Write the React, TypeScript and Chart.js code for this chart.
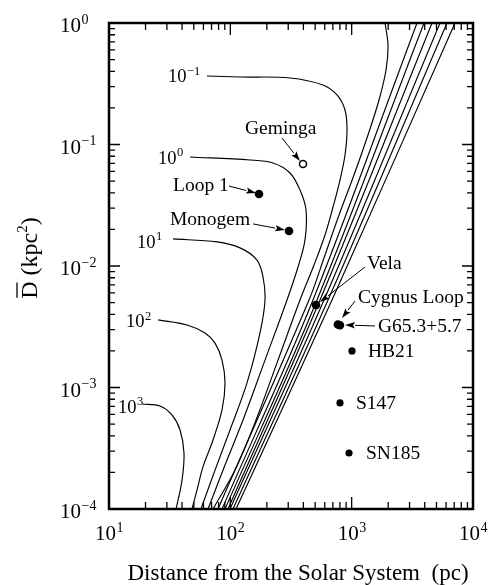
import React, { useEffect, useRef } from "react";
import { Chart, registerables } from "chart.js";

Chart.register(...registerables);

// ---------------- data ----------------
const xMin = 10;
const xMax = 10000;
const yMin = 1e-4;
const yMax = 1;

// labelled curves (distance pc, D kpc^2)
const curveM2X = [1883, 1993, 1919, 1680, 1363, 1045, 786.5, 603.0, 445.0, 79.1];
const curveM2Y = [1, 0.659, 0.4104, 0.2325, 0.1197, 0.0561, 0.0263, 0.01232, 0.00525, 0.0001];

const curveM1X = [64.2, 120.2, 310.4, 580.4, 757.3, 881.3, 915.4, 881.3, 801.4, 701.9, 603.0, 489.4, 375.2, 247.2, 162.8, 109.3, 72.0];
const curveM1Y = [0.3664, 0.3594, 0.3527, 0.3089, 0.2556, 0.1923, 0.1316, 0.082, 0.051, 0.0306, 0.018, 0.01019, 0.00525, 0.00168, 0.00054, 0.000209, 0.0001];

const curve0X = [46.5, 145.3, 224.7, 310.4, 375.2, 420.4, 412.5, 361.2, 293.2, 193.1, 127.2, 90.4, 65.5];
const curve0Y = [0.0789, 0.0746, 0.0704, 0.0583, 0.0422, 0.0289, 0.0164, 0.00981, 0.00525, 0.00168, 0.00054, 0.00023, 0.0001];

const curve1X = [33.7, 77.6, 120.2, 165.9, 185.9, 193.1, 175.6, 137.2, 99.4, 74.8, 57.3];
const curve1Y = [0.0167, 0.0158, 0.0141, 0.0112, 0.00812, 0.00525, 0.00281, 0.00109, 0.000447, 0.000209, 0.0001];

const curve2X = [25.4, 43.9, 61.8, 74.8, 85.4, 90.4, 85.4, 72.0, 59.5, 53.1, 48.3];
const curve2Y = [0.0036, 0.00327, 0.00281, 0.00232, 0.00168, 0.00109, 0.000653, 0.00037, 0.000222, 0.000143, 0.0001];

const curve3X = [18.7, 26.3, 33.0, 38.5, 41.5, 40.0, 35.7];
const curve3Y = [0.000731, 0.000704, 0.000594, 0.000447, 0.000289, 0.000173, 0.0001];

// unlabelled bundle of steep lines
const bundleY = [1, 0.00525, 0.0001];
const bundleTopX = [3455, 3948, 4594, 5348, 6106, 7108];
const bundleMidX = [480.2, 518.0, 548.3, 591.6, 638.3, 688.7];
const bundleBottomX = [85.4, 90.4, 95.7, 99.4, 105.2, 111.4];

// sources
const bigNames = ["Loop 1", "Monogem", "Vela", "Cygnus Loop", "G65.3+5.7"];
const bigDist = [172.3, 304.5, 508.2, 770, 800];
const bigD = [0.0391, 0.0194, 0.00478, 0.0033, 0.00325];
const smallNames = ["HB21", "S147", "SN185"];
const smallDist = [1006, 801, 951];
const smallD = [0.002, 0.000746, 0.000289];
const openNames = ["Geminga"];
const openDist = [397];
const openD = [0.0691];

// text annotations (anchored in data units, left edge / middle)
const labelTexts = ["Geminga", "Loop 1", "Monogem", "Vela", "Cygnus Loop", "G65.3+5.7", "HB21", "S147", "SN185"];
const labelX = [132.1, 33.7, 31.8, 1338, 1128, 1649, 1363, 1086, 1313];
const labelY = [0.1367, 0.0464, 0.0244, 0.01058, 0.00556, 0.00321, 0.002, 0.000746, 0.000289];

const arrowFromX = [266.6, 97.5, 153.8, 1288, 1065, 1557];
const arrowFromY = [0.1131, 0.0455, 0.0222, 0.00981, 0.00515, 0.00321];
const arrowToX = [375.2, 162.8, 282.2, 548.3, 832.4, 881.3];
const arrowToY = [0.0731, 0.0399, 0.0198, 0.00505, 0.00373, 0.00327];

const curveLabelExp = ["\u22121", "0", "1", "2", "3"];
const curveLabelX = [30.6, 25.4, 17.0, 13.8, 11.86];
const curveLabelY = [0.3664, 0.0789, 0.01606, 0.00353, 0.000704];

const xTickExps = ["1", "2", "3", "4"];
const xTickVals = [10, 100, 1000, 10000];
const yTickExps = ["0", "\u22121", "\u22122", "\u22123", "\u22124"];
const yTickVals = [1, 0.1, 0.01, 0.001, 0.0001];

const xTitle = "Distance from the Solar System  (pc)";

// ---------------- helpers ----------------
const SERIF = '"Liberation Serif", "Times New Roman", serif';

function zip(xs: number[], ys: number[]) {
  return xs.map((x, i) => ({ x, y: ys[i] }));
}

function lineDs(data: { x: number; y: number }[]) {
  return {
    data,
    showLine: true,
    borderColor: "#000",
    borderWidth: 1.15,
    pointRadius: 0,
    pointHoverRadius: 0,
    tension: 0.35,
    fill: false,
  };
}

function drawPow(
  ctx: CanvasRenderingContext2D,
  exp: string,
  x: number,
  baseline: number,
  size: number,
  supSize: number,
  align: "left" | "center"
) {
  ctx.font = `${size}px ${SERIF}`;
  const wb = ctx.measureText("10").width;
  ctx.font = `${supSize}px ${SERIF}`;
  const ws = ctx.measureText(exp).width;
  const start = align === "center" ? x - (wb + ws) / 2 : x;
  ctx.textAlign = "left";
  ctx.textBaseline = "alphabetic";
  ctx.font = `${size}px ${SERIF}`;
  ctx.fillText("10", start, baseline);
  ctx.font = `${supSize}px ${SERIF}`;
  ctx.fillText(exp, start + wb + 0.5, baseline - size * 0.4);
}

const decorPlugin = {
  id: "decor",
  afterDatasetsDraw(chart: any) {
    const ctx: CanvasRenderingContext2D = chart.ctx;
    const xs = chart.scales.x;
    const ys = chart.scales.y;
    const { left, right, top, bottom } = chart.chartArea;
    ctx.save();
    ctx.strokeStyle = "#000";
    ctx.fillStyle = "#000";

    // ticks (inward, all four sides)
    ctx.lineWidth = 1.3;
    ctx.beginPath();
    for (let e = 1; e < 4; e++) {
      for (let m = 1; m < 10; m++) {
        const px = xs.getPixelForValue(m * Math.pow(10, e));
        const len = m === 1 ? 12 : 7;
        ctx.moveTo(px, bottom);
        ctx.lineTo(px, bottom - len);
        ctx.moveTo(px, top);
        ctx.lineTo(px, top + len);
      }
    }
    for (let e = -4; e < 0; e++) {
      for (let m = 1; m < 10; m++) {
        const py = ys.getPixelForValue(m * Math.pow(10, e));
        const len = m === 1 ? 11 : 6;
        ctx.moveTo(left, py);
        ctx.lineTo(left + len, py);
        ctx.moveTo(right, py);
        ctx.lineTo(right - len, py);
      }
    }
    ctx.stroke();

    // frame
    ctx.lineWidth = 2.5;
    ctx.strokeRect(left, top, right - left, bottom - top);

    // tick labels
    xTickVals.forEach((v, i) => {
      drawPow(ctx, xTickExps[i], xs.getPixelForValue(v), bottom + 31, 21, 14, "center");
    });
    yTickVals.forEach((v, i) => {
      drawPow(ctx, yTickExps[i], 60, ys.getPixelForValue(v) + 9, 21, 14, "left");
    });

    // x title
    ctx.font = `23px ${SERIF}`;
    ctx.textAlign = "center";
    ctx.textBaseline = "alphabetic";
    ctx.fillText(xTitle, 298, 580);

    // y title (rotated)
    ctx.save();
    ctx.translate(37, 258);
    ctx.rotate(-Math.PI / 2);
    ctx.font = `24px ${SERIF}`;
    const p1 = "D (kpc";
    const p2 = "2";
    const p3 = ")";
    const w1 = ctx.measureText(p1).width;
    const wD = ctx.measureText("D").width;
    const w3 = ctx.measureText(p3).width;
    ctx.font = `15px ${SERIF}`;
    const w2 = ctx.measureText(p2).width;
    const tot = w1 + w2 + w3;
    let sx = -tot / 2;
    ctx.textAlign = "left";
    ctx.font = `24px ${SERIF}`;
    ctx.fillText(p1, sx, 0);
    ctx.font = `15px ${SERIF}`;
    ctx.fillText(p2, sx + w1, -10);
    ctx.font = `24px ${SERIF}`;
    ctx.fillText(p3, sx + w1 + w2, 0);
    ctx.lineWidth = 1.3;
    ctx.beginPath();
    ctx.moveTo(sx + 1, -20);
    ctx.lineTo(sx + wD - 1, -20);
    ctx.stroke();
    ctx.restore();

    // curve labels
    curveLabelExp.forEach((ex, i) => {
      const px = xs.getPixelForValue(curveLabelX[i]);
      const py = ys.getPixelForValue(curveLabelY[i]);
      drawPow(ctx, ex, px, py + 6.5, 18.5, 12.5, "left");
    });

    // source labels
    ctx.font = `19.5px ${SERIF}`;
    ctx.textAlign = "left";
    ctx.textBaseline = "middle";
    labelTexts.forEach((t, i) => {
      ctx.fillText(t, xs.getPixelForValue(labelX[i]), ys.getPixelForValue(labelY[i]) + 1);
    });

    // arrows
    ctx.lineWidth = 1;
    arrowFromX.forEach((fx, i) => {
      const x0 = xs.getPixelForValue(fx);
      const y0 = ys.getPixelForValue(arrowFromY[i]);
      const x1 = xs.getPixelForValue(arrowToX[i]);
      const y1 = ys.getPixelForValue(arrowToY[i]);
      const ang = Math.atan2(y1 - y0, x1 - x0);
      const hl = 10;
      const hw = 3.2;
      const bx = x1 - hl * Math.cos(ang);
      const by = y1 - hl * Math.sin(ang);
      ctx.beginPath();
      ctx.moveTo(x0, y0);
      ctx.lineTo(bx, by);
      ctx.stroke();
      ctx.beginPath();
      ctx.moveTo(x1, y1);
      ctx.lineTo(bx + hw * Math.sin(ang), by - hw * Math.cos(ang));
      ctx.lineTo(bx + 2 * Math.cos(ang), by + 2 * Math.sin(ang));
      ctx.lineTo(bx - hw * Math.sin(ang), by + hw * Math.cos(ang));
      ctx.closePath();
      ctx.fill();
    });

    ctx.restore();
  },
};

export default function App() {
  const ref = useRef<HTMLCanvasElement | null>(null);

  useEffect(() => {
    if (!ref.current) return;
    const datasets: any[] = [
      lineDs(zip(curveM2X, curveM2Y)),
      lineDs(zip(curveM1X, curveM1Y)),
      lineDs(zip(curve0X, curve0Y)),
      lineDs(zip(curve1X, curve1Y)),
      lineDs(zip(curve2X, curve2Y)),
      lineDs(zip(curve3X, curve3Y)),
    ];
    bundleTopX.forEach((tx, i) => {
      datasets.push(lineDs(zip([tx, bundleMidX[i], bundleBottomX[i]], bundleY)));
    });
    datasets.push({
      label: bigNames.join(","),
      data: zip(bigDist, bigD),
      pointRadius: 4.3,
      pointBackgroundColor: "#000",
      pointBorderWidth: 0,
      showLine: false,
    });
    datasets.push({
      label: smallNames.join(","),
      data: zip(smallDist, smallD),
      pointRadius: 3.6,
      pointBackgroundColor: "#000",
      pointBorderWidth: 0,
      showLine: false,
    });
    datasets.push({
      label: openNames.join(","),
      data: zip(openDist, openD),
      pointRadius: 3.5,
      pointBackgroundColor: "#fff",
      pointBorderColor: "#000",
      pointBorderWidth: 1.5,
      showLine: false,
    });

    const chart = new Chart(ref.current, {
      type: "scatter",
      data: { datasets },
      options: {
        animation: false,
        responsive: false,
        events: [],
        layout: { padding: { left: 109, right: 15, top: 23, bottom: 76 } },
        plugins: { legend: { display: false }, tooltip: { enabled: false } },
        scales: {
          x: { type: "logarithmic", min: xMin, max: xMax, display: false },
          y: { type: "logarithmic", min: yMin, max: yMax, display: false },
        },
      },
      plugins: [decorPlugin],
    } as any);
    return () => chart.destroy();
  }, []);

  return (
    <div style={{ position: "absolute", left: 0, top: 0, width: 488, height: 585, background: "#fff" }}>
      <canvas ref={ref} width={488} height={585} style={{ display: "block" }} />
    </div>
  );
}
